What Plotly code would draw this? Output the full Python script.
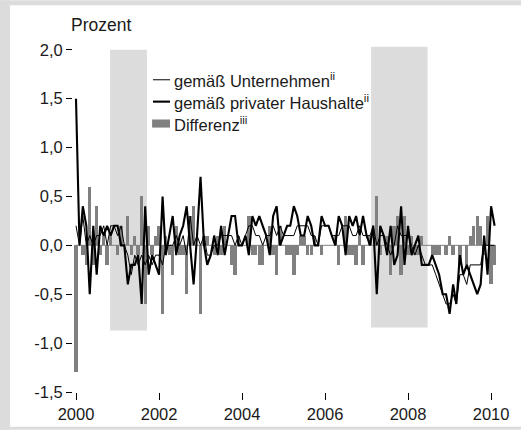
import pandas as pd
import plotly.graph_objects as go

# ---- data (monthly, Jan 2000 - Feb 2010), percent ----
months = pd.date_range("2000-01-01", periods=122, freq="MS")

unternehmen = [
    0.2, 0.0, 0.3, 0.0, 0.1, 0.0, 0.1, 0.1, 0.2, 0.0, 0.2, 0.2,
    0.1, 0.2, 0.0, -0.1, -0.3, -0.1, -0.2, -0.1, -0.2, -0.1, -0.2, -0.1,
    -0.1, -0.2, 0.0, 0.0, 0.0, 0.1, 0.0, 0.1, -0.1, 0.3, 0.0, 0.1,
    0.0, 0.1, -0.1, -0.1, 0.0, 0.0, 0.1, 0.1, 0.1, 0.1, 0.0, 0.1,
    0.0, 0.1, 0.2, 0.2, 0.1, 0.1, 0.0, 0.1, 0.1, 0.2, 0.1, 0.2,
    0.1, 0.1, 0.1, 0.1, 0.2, 0.2, 0.2, 0.2, 0.1, 0.1, 0.0, 0.2,
    0.2, 0.2, 0.1, 0.1, 0.1, 0.2, 0.2, 0.2, 0.1, 0.1, 0.2, 0.1,
    0.1, 0.1, 0.2, 0.0, 0.1, 0.1, 0.0, -0.1, 0.0, 0.2, 0.1, 0.1,
    0.1, 0.0, -0.1, 0.0, -0.1, -0.2, -0.2, -0.2, -0.3, -0.4, -0.5, -0.6,
    -0.6, -0.5, -0.6, -0.3, -0.3, -0.4, -0.2, -0.2, -0.2, -0.2, 0.0, 0.0,
    0.0, 0.0,
]

haushalte = [
    1.5, 0.0, 0.4, 0.2, -0.5, 0.2, -0.3, 0.2, 0.1, 0.2, 0.1, 0.2,
    0.2, 0.0, 0.0, -0.4, -0.2, -0.2, -0.1, -0.6, 0.4, -0.3, -0.1, -0.2,
    -0.3, 0.5, -0.1, 0.1, 0.3, -0.1, 0.1, 0.2, 0.4, 0.0, -0.4, 0.1,
    0.7, 0.0, -0.2, -0.1, 0.1, -0.1, 0.2, -0.1, 0.1, 0.3, 0.3, 0.0,
    0.0, 0.1, -0.1, 0.3, 0.2, 0.3, 0.2, 0.1, -0.1, 0.3, 0.4, 0.0,
    0.1, 0.2, 0.2, 0.4, 0.3, 0.1, 0.1, 0.3, 0.2, 0.0, 0.0, 0.3,
    0.2, 0.2, 0.1, 0.0, 0.3, 0.2, -0.1, 0.3, 0.2, 0.3, 0.1, 0.3,
    0.1, 0.0, 0.2, -0.5, 0.2, 0.1, -0.1, 0.2, -0.2, -0.1, 0.4, -0.2,
    0.2, -0.1, 0.0, 0.1, -0.2, -0.2, -0.2, -0.1, -0.2, -0.3, -0.5, -0.5,
    -0.7, -0.4, -0.6, -0.1, -0.3, -0.2, -0.3, -0.4, -0.5, -0.4, 0.1, -0.3,
    0.4, 0.2,
]

differenz = [
    -1.3, 0.0, -0.1, -0.2, 0.6, -0.2, 0.4, -0.1, 0.1, -0.2, 0.1, 0.0,
    -0.1, 0.2, 0.0, 0.3, -0.1, 0.1, -0.1, 0.5, -0.6, 0.2, -0.1, 0.1,
    0.2, -0.7, 0.1, -0.1, -0.3, 0.2, -0.1, -0.1, -0.5, 0.3, 0.4, 0.0,
    -0.7, 0.1, 0.1, 0.0, -0.1, 0.1, -0.1, 0.2, 0.0, -0.2, -0.3, 0.1,
    0.0, 0.0, 0.3, -0.1, -0.1, -0.2, -0.2, 0.0, 0.2, -0.1, -0.3, 0.2,
    0.0, -0.1, -0.1, -0.3, -0.1, 0.1, 0.1, -0.1, -0.1, 0.1, 0.0, -0.1,
    0.0, 0.0, 0.0, 0.1, -0.2, 0.0, 0.3, -0.1, -0.1, -0.2, 0.1, -0.2,
    0.0, 0.1, 0.0, 0.5, -0.1, 0.0, 0.1, -0.3, 0.2, 0.3, -0.3, 0.3,
    -0.1, 0.1, -0.1, -0.1, 0.1, 0.0, 0.0, -0.1, -0.1, -0.1, 0.0, -0.1,
    0.1, -0.1, 0.0, -0.2, 0.0, -0.2, 0.1, 0.2, 0.3, 0.2, -0.1, 0.3,
    -0.4, -0.2,
]

# shaded periods (start, end, bottom, top)
shade_start = ["2000-10-27", "2007-02-10"]
shade_end = ["2001-09-16", "2008-06-21"]
shade_bottom = [-0.87, -0.84]
shade_top = [2.0, 2.03]

ytick_vals = [-1.5, -1.0, -0.5, 0.0, 0.5, 1.0, 1.5, 2.0]
ytick_text = ["-1,5", "-1,0", "-0,5", "0,0", "0,5", "1,0", "1,5", "2,0"]
xtick_vals = ["2000-01-01", "2002-01-01", "2004-01-01", "2006-01-01", "2008-01-01", "2010-01-01"]
xtick_text = ["2000", "2002", "2004", "2006", "2008", "2010"]

legend_labels = [
    "gemäß Unternehmen<sup>ii</sup>",
    "gemäß privater Haushalte<sup>ii</sup>",
    "Differenz<sup>iii</sup>",
]

FONT = "Liberation Sans, Arial, sans-serif"
TXT = "#1a1a1a"
BAR = "#808080"
SHADE = "#dcdcdc"
FRAME = "#dcdcdc"

fig = go.Figure()

fig.add_trace(go.Bar(
    x=months, y=differenz, marker_color=BAR, marker_line_width=0,
    width=2.55e9, name="Differenz", showlegend=False,
))
fig.add_trace(go.Scatter(
    x=months, y=unternehmen, mode="lines", line=dict(color="black", width=1),
    name="gemäß Unternehmen", showlegend=False,
))
fig.add_trace(go.Scatter(
    x=months, y=haushalte, mode="lines", line=dict(color="black", width=2.1),
    name="gemäß privater Haushalte", showlegend=False,
))

shapes = []
# gray frame strips (top, left, bottom) on white page
shapes.append(dict(type="rect", xref="paper", yref="paper",
                   x0=-0.1663, x1=1.0205, y0=1.0989, y1=1.113,
                   fillcolor=FRAME, line_width=0, layer="below"))
shapes.append(dict(type="rect", xref="paper", yref="paper",
                   x0=-0.1663, x1=-0.1435, y0=-0.1073, y1=1.113,
                   fillcolor=FRAME, line_width=0, layer="below"))
shapes.append(dict(type="rect", xref="paper", yref="paper",
                   x0=-0.1663, x1=1.0205, y0=-0.1073, y1=-0.099,
                   fillcolor=FRAME, line_width=0, layer="below"))
for s, e, b, t in zip(shade_start, shade_end, shade_bottom, shade_top):
    shapes.append(dict(type="rect", xref="x", yref="y", x0=s, x1=e, y0=b, y1=t,
                       fillcolor=SHADE, line_width=0, layer="below"))
# zero baseline
shapes.append(dict(type="line", xref="x", yref="y", x0=months[0], x1=months[-1],
                   y0=0, y1=0, line=dict(color=BAR, width=1), layer="below"))

# custom legend symbols
lx0, lx1 = 0.1822, 0.2210
ly = [0.887, 0.8249, 0.7627]
shapes.append(dict(type="line", xref="paper", yref="paper", x0=lx0, x1=lx1,
                   y0=ly[0], y1=ly[0], line=dict(color="black", width=1)))
shapes.append(dict(type="line", xref="paper", yref="paper", x0=lx0, x1=lx1,
                   y0=ly[1], y1=ly[1], line=dict(color="black", width=2.1)))
shapes.append(dict(type="rect", xref="paper", yref="paper", x0=lx0 - 0.002, x1=lx1,
                   y0=ly[2] - 0.0115, y1=ly[2] + 0.0115, fillcolor=BAR, line_width=0))

annotations = [dict(text="Prozent", xref="paper", yref="paper", x=-0.0091, y=1.0424,
                    xanchor="left", yanchor="middle", showarrow=False,
                    font=dict(family=FONT, size=17.5, color=TXT))]
for lab, yy in zip(legend_labels, ly):
    annotations.append(dict(text=lab, xref="paper", yref="paper", x=0.2255, y=yy,
                            xanchor="left", yanchor="middle", showarrow=False,
                            font=dict(family=FONT, size=16.5, color=TXT)))

fig.update_layout(
    width=521, height=432,
    margin=dict(l=73, r=9, t=40, b=38, pad=0),
    paper_bgcolor="white", plot_bgcolor="rgba(0,0,0,0)",
    font=dict(family=FONT, size=16.5, color=TXT),
    showlegend=False, bargap=0,
    shapes=shapes, annotations=annotations,
    xaxis=dict(type="date", range=["1999-12-05 14:00", "2010-07-04"],
               tickvals=xtick_vals, ticktext=xtick_text,
               ticks="outside", ticklen=7, tickcolor="black", tickwidth=1,
               showgrid=False, zeroline=False, showline=False,
               tickfont=dict(family=FONT, size=16.5, color=TXT)),
    yaxis=dict(range=[-1.5, 2.1], tickvals=ytick_vals, ticktext=ytick_text,
               ticks="outside", ticklen=6, tickcolor="black", tickwidth=1,
               showgrid=False, zeroline=False, showline=False,
               tickfont=dict(family=FONT, size=16.5, color=TXT)),
)

fig.write_html(
    "out.html",
    config={"displayModeBar": False, "staticPlot": True},
    post_script="document.documentElement.style.overflow='hidden';"
                "document.documentElement.style.background='white';"
                "document.body.style.margin='0';document.body.style.overflow='hidden';"
                "document.body.style.background='white';",
)
